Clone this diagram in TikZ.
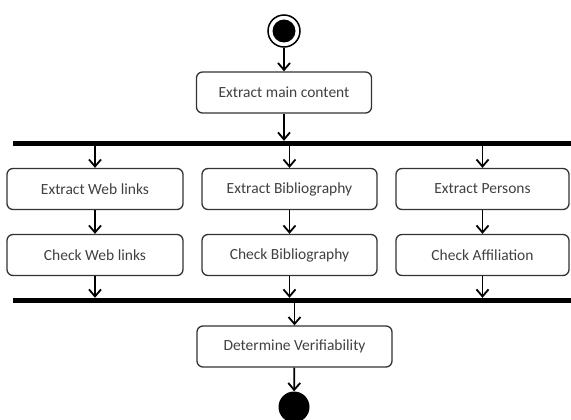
\documentclass[tikz,border=0pt]{standalone}
\usepackage{fontspec}
\setmainfont{Carlito}
\usetikzlibrary{arrows.meta}
\tikzset{
  action/.style={draw=black!80, line width=1.3pt, rounded corners=6pt,
    minimum height=41pt, inner sep=0pt, text=black!75,
    font=\fontsize{15.5}{18}\selectfont},
  flow/.style={line width=1.8pt,
    -{Straight Barb[length=7pt,width=12pt,line width=1.8pt]}},
  syncbar/.style={fill=black, inner sep=0pt, minimum height=5pt,
    minimum width=558pt},
}
\begin{document}
\begin{tikzpicture}[x=1pt,y=-1pt]
    \useasboundingbox (0,0) rectangle (571,420);
    % start and first action
    \node[circle, draw, line width=1.5pt, minimum size=32pt, inner sep=0pt] (start) at (284,31) {};
    \node[circle, fill, minimum size=23pt, inner sep=0pt] at (start) {};
    \node[action, minimum width=175pt] (extract) at (284,92.5) {Extract main content};
    % fork
    \node[syncbar] (fork) at (292,143.5) {};
    \node[action, minimum width=176pt] (webx) at (95,189) {Extract Web links};
    \node[action, minimum width=176pt] (webc) at (95,255) {Check Web links};
    \node[action, minimum width=175pt] (bibx) at (289.5,189) {Extract Bibliography};
    \node[action, minimum width=175pt] (bibc) at (289.5,255) {Check Bibliography};
    \node[action, minimum width=173pt] (perx) at (482.5,189) {Extract Persons};
    \node[action, minimum width=173pt] (perc) at (482.5,255) {Check Affiliation};
    % join and end
    \node[syncbar] (join) at (292,300.5) {};
    \node[action, minimum width=195pt] (verif) at (294.5,346.5) {Determine Verifiability};
    \node[circle, fill, minimum size=31pt, inner sep=0pt] (stop) at (294,407) {};
    % connectors
    \draw[flow] (start) -- (extract);
    \draw[flow] (extract) -- (extract |- fork.north);
    \foreach \n in {webx,bibx,perx}
        \draw[flow] (fork.south -| \n) -- (\n);
    \draw[flow] (webx) -- (webc);
    \draw[flow] (bibx) -- (bibc);
    \draw[flow] (perx) -- (perc);
    \foreach \n in {webc,bibc,perc}
        \draw[flow] (\n) -- (\n |- join.north);
    \draw[flow] (join.south -| verif) -- (verif);
    \draw[flow] (verif) -- (stop);
\end{tikzpicture}
\end{document}
